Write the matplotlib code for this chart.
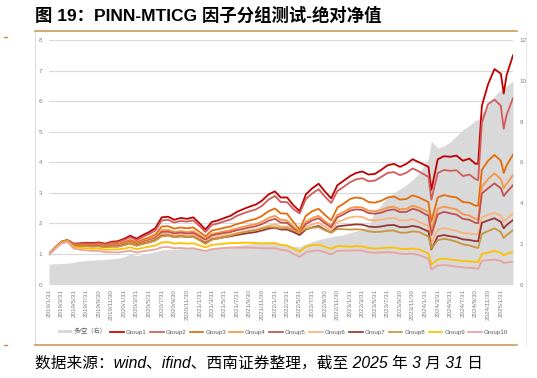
import matplotlib

matplotlib.use("Agg")
import matplotlib.pyplot as plt
import pandas as pd
from matplotlib.lines import Line2D
from matplotlib.patches import Patch
from matplotlib.transforms import blended_transform_factory

plt.rcParams["font.family"] = ["Liberation Sans", "Noto Sans CJK SC"]

TITLE = "图 19：PINN-MTICG 因子分组测试-绝对净值"
SOURCE = "数据来源：wind、ifind、西南证券整理，截至 2025 年 3 月 31 日"

DATES = [
    "2019-01-31", "2019-02-28", "2019-03-31", "2019-04-30", "2019-05-31", "2019-06-30",
    "2019-07-31", "2019-08-31", "2019-09-30", "2019-10-31", "2019-11-30", "2019-12-31",
    "2020-01-31", "2020-02-29", "2020-03-31", "2020-04-30", "2020-05-31", "2020-06-30",
    "2020-07-31", "2020-08-31", "2020-09-30", "2020-10-31", "2020-11-30", "2020-12-31",
    "2021-01-31", "2021-02-28", "2021-03-31", "2021-04-30", "2021-05-31", "2021-06-30",
    "2021-07-31", "2021-08-31", "2021-09-30", "2021-10-31", "2021-11-30", "2021-12-31",
    "2022-01-31", "2022-02-28", "2022-03-31", "2022-04-30", "2022-05-31", "2022-06-30",
    "2022-07-31", "2022-08-31", "2022-09-30", "2022-10-31", "2022-11-30", "2022-12-31",
    "2023-01-31", "2023-02-28", "2023-03-31", "2023-04-30", "2023-05-31", "2023-06-30",
    "2023-07-31", "2023-08-31", "2023-09-30", "2023-10-31", "2023-11-30", "2023-12-31",
    "2024-01-31", "2024-02-15", "2024-02-29", "2024-03-31", "2024-04-30", "2024-05-31",
    "2024-06-30", "2024-07-31", "2024-08-31", "2024-09-30", "2024-10-13", "2024-10-31",
    "2024-11-30", "2024-12-31", "2025-01-31", "2025-02-14", "2025-02-28", "2025-03-31",
]

# long/short net value, right axis
LONG_SHORT = [
    1.00, 1.02, 1.04, 1.05, 1.10, 1.15, 1.18, 1.20, 1.22, 1.24, 1.27, 1.30,
    1.36, 1.50, 1.42, 1.48, 1.55, 1.62, 1.70, 1.72, 1.74, 1.76, 1.78, 1.78,
    1.70, 1.66, 1.74, 1.78, 1.84, 1.88, 1.92, 1.96, 2.00, 2.04, 2.07, 2.10,
    2.12, 2.02, 1.95, 1.88, 1.86, 2.00, 2.10, 2.20, 2.28, 2.35, 2.40, 2.45,
    2.55, 2.62, 2.70, 2.85, 3.60, 3.90, 4.30, 4.50, 4.70, 4.90, 5.15, 5.45,
    5.95, 6.20, 7.05, 6.70, 6.80, 7.00, 7.30, 7.60, 7.80, 8.05, 8.10, 8.40,
    8.75, 9.25, 9.55, 9.55, 9.75, 10.00,
]

GROUP1 = [
    1.00, 1.20, 1.40, 1.46, 1.34, 1.35, 1.37, 1.36, 1.38, 1.34, 1.40, 1.42,
    1.50, 1.60, 1.50, 1.62, 1.72, 1.85, 2.20, 2.22, 2.12, 2.18, 2.15, 2.20,
    2.00, 1.80, 2.05, 2.10, 2.18, 2.25, 2.38, 2.47, 2.55, 2.62, 2.75, 2.95,
    3.05, 2.85, 2.85, 2.60, 2.40, 2.95, 3.15, 3.30, 3.05, 2.82, 3.25, 3.40,
    3.55, 3.65, 3.70, 3.60, 3.62, 3.75, 3.90, 3.95, 3.85, 3.95, 4.10, 4.00,
    3.90, 3.85, 3.10, 4.10, 4.20, 4.18, 4.22, 4.05, 4.12, 3.95, 3.96, 5.85,
    6.55, 7.05, 6.90, 6.25, 6.85, 7.50,
]
GROUP2 = [
    1.00, 1.20, 1.40, 1.45, 1.33, 1.33, 1.35, 1.34, 1.36, 1.32, 1.37, 1.39,
    1.46, 1.55, 1.45, 1.56, 1.65, 1.77, 2.10, 2.12, 2.03, 2.08, 2.06, 2.10,
    1.91, 1.72, 1.95, 2.00, 2.07, 2.13, 2.25, 2.33, 2.40, 2.46, 2.58, 2.78,
    2.90, 2.70, 2.70, 2.47, 2.33, 2.80, 2.98, 3.12, 2.88, 2.67, 3.06, 3.20,
    3.35, 3.44, 3.48, 3.38, 3.40, 3.52, 3.65, 3.68, 3.58, 3.66, 3.80, 3.70,
    3.58, 3.52, 2.78, 3.65, 3.75, 3.72, 3.74, 3.55, 3.60, 3.45, 3.42, 5.30,
    5.90, 6.05, 5.85, 5.10, 5.55, 6.10,
]
GROUP3 = [
    1.00, 1.19, 1.39, 1.45, 1.30, 1.30, 1.31, 1.30, 1.32, 1.28, 1.32, 1.33,
    1.39, 1.46, 1.38, 1.47, 1.54, 1.64, 1.90, 1.91, 1.83, 1.87, 1.84, 1.87,
    1.72, 1.58, 1.77, 1.81, 1.86, 1.90, 1.98, 2.04, 2.10, 2.15, 2.25, 2.40,
    2.49, 2.33, 2.32, 2.05, 1.80, 2.25, 2.40, 2.48, 2.28, 2.10, 2.52, 2.65,
    2.80, 2.85, 2.82, 2.70, 2.68, 2.74, 2.85, 2.88, 2.78, 2.80, 2.92, 2.85,
    2.75, 2.70, 2.06, 2.85, 2.93, 2.88, 2.85, 2.70, 2.68, 2.58, 2.58, 3.75,
    4.05, 4.24, 4.05, 3.65, 3.90, 4.25,
]
GROUP4 = [
    1.00, 1.19, 1.38, 1.44, 1.28, 1.28, 1.29, 1.28, 1.30, 1.26, 1.29, 1.30,
    1.36, 1.42, 1.34, 1.42, 1.48, 1.56, 1.78, 1.79, 1.72, 1.75, 1.72, 1.75,
    1.62, 1.50, 1.66, 1.70, 1.74, 1.78, 1.84, 1.89, 1.94, 1.98, 2.06, 2.18,
    2.25, 2.12, 2.10, 1.90, 1.73, 2.05, 2.18, 2.25, 2.08, 1.93, 2.28, 2.38,
    2.50, 2.54, 2.52, 2.42, 2.40, 2.44, 2.52, 2.55, 2.46, 2.48, 2.58, 2.52,
    2.42, 2.38, 1.79, 2.48, 2.55, 2.50, 2.46, 2.30, 2.26, 2.15, 2.15, 3.20,
    3.45, 3.64, 3.45, 3.15, 3.30, 3.58,
]
GROUP5 = [
    1.00, 1.19, 1.38, 1.44, 1.27, 1.27, 1.28, 1.27, 1.29, 1.25, 1.27, 1.28,
    1.34, 1.40, 1.32, 1.39, 1.45, 1.52, 1.72, 1.73, 1.67, 1.70, 1.67, 1.69,
    1.57, 1.46, 1.61, 1.65, 1.69, 1.72, 1.78, 1.82, 1.87, 1.91, 1.98, 2.09,
    2.15, 2.03, 2.02, 1.84, 1.68, 1.98, 2.10, 2.17, 2.01, 1.87, 2.20, 2.30,
    2.42, 2.46, 2.44, 2.34, 2.32, 2.35, 2.43, 2.46, 2.37, 2.38, 2.48, 2.42,
    2.30, 2.26, 1.62, 2.30, 2.38, 2.33, 2.29, 2.15, 2.12, 2.02, 2.01, 2.98,
    3.15, 3.31, 3.15, 2.90, 3.02, 3.25,
]
GROUP6 = [
    1.00, 1.19, 1.38, 1.44, 1.27, 1.26, 1.27, 1.26, 1.28, 1.24, 1.26, 1.27,
    1.32, 1.38, 1.30, 1.36, 1.42, 1.48, 1.65, 1.66, 1.60, 1.63, 1.60, 1.62,
    1.50, 1.40, 1.53, 1.57, 1.61, 1.64, 1.69, 1.73, 1.77, 1.80, 1.86, 1.93,
    1.97, 1.90, 1.90, 1.78, 1.66, 1.88, 1.97, 2.03, 1.90, 1.78, 2.05, 2.12,
    2.20, 2.23, 2.21, 2.12, 2.10, 2.12, 2.17, 2.18, 2.10, 2.10, 2.15, 2.05,
    1.96, 1.92, 1.35, 1.80, 1.85, 1.80, 1.76, 1.68, 1.67, 1.65, 1.65, 2.20,
    2.28, 2.35, 2.25, 2.05, 2.15, 2.33,
]
GROUP7 = [
    1.00, 1.18, 1.37, 1.43, 1.26, 1.25, 1.26, 1.25, 1.26, 1.23, 1.25, 1.25,
    1.30, 1.35, 1.28, 1.34, 1.39, 1.45, 1.60, 1.61, 1.56, 1.58, 1.56, 1.57,
    1.46, 1.36, 1.48, 1.51, 1.55, 1.58, 1.62, 1.66, 1.69, 1.72, 1.77, 1.83,
    1.86, 1.80, 1.80, 1.72, 1.62, 1.80, 1.87, 1.92, 1.80, 1.70, 1.90, 1.93,
    1.95, 1.97, 1.96, 1.90, 1.88, 1.90, 1.94, 1.95, 1.88, 1.88, 1.92, 1.88,
    1.78, 1.74, 1.15, 1.58, 1.62, 1.58, 1.55, 1.48, 1.46, 1.42, 1.42, 2.02,
    2.10, 2.17, 2.05, 1.84, 1.95, 2.11,
]
GROUP8 = [
    1.00, 1.18, 1.37, 1.43, 1.26, 1.25, 1.26, 1.24, 1.25, 1.22, 1.24, 1.24,
    1.29, 1.34, 1.27, 1.33, 1.38, 1.44, 1.58, 1.60, 1.55, 1.58, 1.56, 1.58,
    1.45, 1.33, 1.47, 1.51, 1.56, 1.60, 1.66, 1.71, 1.75, 1.78, 1.83, 1.88,
    1.88, 1.84, 1.85, 1.78, 1.70, 1.82, 1.86, 1.88, 1.78, 1.70, 1.82, 1.81,
    1.80, 1.81, 1.80, 1.74, 1.72, 1.73, 1.76, 1.77, 1.70, 1.70, 1.74, 1.72,
    1.62, 1.58, 1.18, 1.45, 1.50, 1.46, 1.40, 1.32, 1.28, 1.22, 1.20, 1.66,
    1.75, 1.84, 1.72, 1.52, 1.62, 1.78,
]
GROUP9 = [
    1.00, 1.17, 1.36, 1.42, 1.22, 1.20, 1.19, 1.17, 1.18, 1.14, 1.15, 1.15,
    1.18, 1.22, 1.16, 1.20, 1.24, 1.28, 1.38, 1.39, 1.34, 1.36, 1.34, 1.35,
    1.28, 1.22, 1.30, 1.32, 1.34, 1.36, 1.36, 1.37, 1.37, 1.36, 1.35, 1.35,
    1.35, 1.30, 1.28, 1.18, 1.08, 1.24, 1.29, 1.31, 1.24, 1.17, 1.26, 1.25,
    1.24, 1.26, 1.25, 1.20, 1.18, 1.19, 1.21, 1.21, 1.17, 1.16, 1.18, 1.15,
    1.06, 1.02, 0.66, 0.82, 0.85, 0.82, 0.80, 0.77, 0.76, 0.74, 0.74, 1.00,
    1.05, 1.10, 1.04, 0.95, 1.00, 1.08,
]
GROUP10 = [
    1.00, 1.16, 1.34, 1.40, 1.18, 1.14, 1.12, 1.10, 1.10, 1.06, 1.06, 1.05,
    1.08, 1.11, 1.05, 1.09, 1.12, 1.15, 1.22, 1.23, 1.19, 1.20, 1.18, 1.19,
    1.14, 1.10, 1.16, 1.18, 1.20, 1.21, 1.21, 1.21, 1.21, 1.20, 1.19, 1.19,
    1.19, 1.14, 1.12, 1.01, 0.91, 1.05, 1.10, 1.12, 1.06, 0.99, 1.10, 1.11,
    1.11, 1.12, 1.11, 1.06, 1.04, 1.05, 1.06, 1.05, 1.01, 1.00, 1.01, 0.97,
    0.88, 0.84, 0.50, 0.62, 0.64, 0.62, 0.59, 0.56, 0.55, 0.53, 0.52, 0.78,
    0.80, 0.82, 0.78, 0.70, 0.72, 0.75,
]

GROUP_NAMES = ["Group1", "Group2", "Group3", "Group4", "Group5",
               "Group6", "Group7", "Group8", "Group9", "Group10"]
GROUP_COLORS = ["#C00000", "#D25C5A", "#E46C0A", "#F79646", "#C0504D",
                "#FAB27A", "#953735", "#C8963E", "#FFC000", "#E8A3A0"]
AREA_LABEL = "多/空（右）"
AREA_COLOR = "#D9D9D9"


def main() -> None:
    dates = pd.to_datetime(DATES)
    groups = [GROUP1, GROUP2, GROUP3, GROUP4, GROUP5,
              GROUP6, GROUP7, GROUP8, GROUP9, GROUP10]

    W, H = 537, 378
    fig = plt.figure(figsize=(W / 100, H / 100), dpi=100)
    ax = fig.add_axes([49 / W, 1 - 284.6 / H, 464 / W, 244.6 / H])
    ax2 = ax.twinx()
    ax.set_zorder(ax2.get_zorder() + 1)
    ax.patch.set_visible(False)

    # gridlines live on the back axes so the grey area covers them
    grid_tr = blended_transform_factory(ax2.transAxes, ax.transData)
    for v in range(1, 9):
        ax2.plot([0, 1], [v, v], transform=grid_tr, color="#D9D9D9",
                 lw=0.8, zorder=0)
    ax2.fill_between(dates, 0, LONG_SHORT, color=AREA_COLOR, lw=0, zorder=1)

    for vals, name, c in zip(groups, GROUP_NAMES, GROUP_COLORS):
        ax.plot(dates, vals, color=c, lw=1.3, label=name)

    ax.set_xlim(dates[0], dates[-1])
    ax.set_ylim(0, 8)
    ax2.set_ylim(0, 12)
    ax.set_yticks(range(0, 9))
    ax2.set_yticks(range(0, 13, 2))

    ticks = pd.date_range("2019-01-31", "2025-01-31", freq="2ME")
    ax.set_xticks(ticks)
    ax.set_xticklabels([f"{d.year}/{d.month}/{d.day}" for d in ticks],
                       rotation=90)
    for a in (ax, ax2):
        for sp in a.spines.values():
            sp.set_visible(False)
        a.tick_params(length=0, labelsize=4.5, colors="#7F7F7F")
    ax.tick_params(axis="y", pad=5)
    ax2.tick_params(axis="y", pad=5)
    ax.tick_params(axis="x", pad=3)

    handles = [Patch(facecolor=AREA_COLOR, edgecolor="none")]
    handles += [Line2D([], [], color=c, lw=1.25) for c in GROUP_COLORS]
    fig.legend(handles, [AREA_LABEL] + GROUP_NAMES, loc="center",
               bbox_to_anchor=(283 / W, 1 - 331.5 / H), ncol=11,
               frameon=False, fontsize=4.5, handlelength=2.2,
               handleheight=0.5, handletextpad=0.3, columnspacing=0.55,
               labelcolor="#595959")

    # frame, rules, title and source in pixel coordinates
    deco = fig.add_axes([0, 0, 1, 1], zorder=-1)
    deco.set_xlim(0, W)
    deco.set_ylim(H, 0)
    deco.axis("off")
    deco.plot([35, 35], [31, 345], color="#D9D9D9", lw=0.7)
    deco.plot([526, 526], [31, 345], color="#E6E6E6", lw=0.7)
    for y in (31, 345):
        deco.plot([35, 517], [y, y], color="#C8914B", lw=1.1)
    deco.plot([4, 7], [37, 37], color="#C8914B", lw=1.0)
    deco.plot([4, 7], [345, 345], color="#C8914B", lw=1.0)
    deco.text(35, 15, TITLE, fontsize=12.5, fontweight="bold",
              ha="left", va="center", color="#000000")
    deco.text(35, 363, SOURCE, fontsize=11.3, style="italic",
              ha="left", va="center", color="#000000")

    fig.savefig("out.png", dpi=100, facecolor="white")
    plt.close(fig)


if __name__ == "__main__":
    main()
